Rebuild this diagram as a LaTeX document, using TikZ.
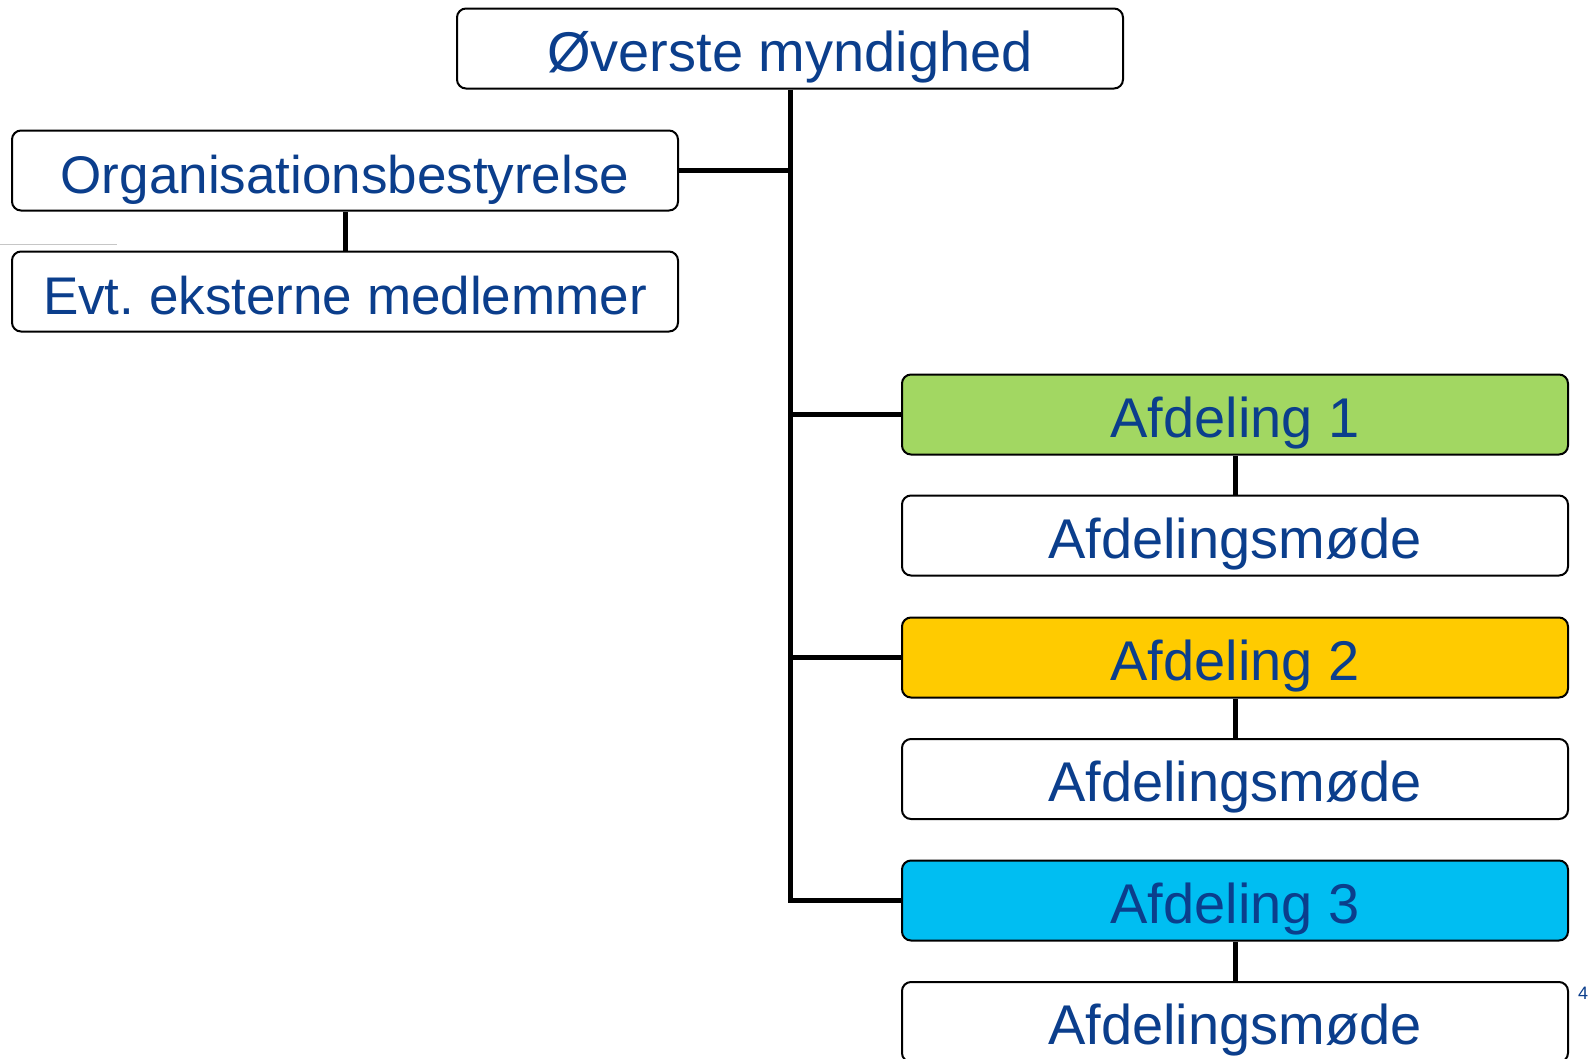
\documentclass[tikz,border=0pt]{standalone}
\usepackage{fontspec}
\setmainfont{Liberation Sans}
\frenchspacing
\definecolor{txtblue}{HTML}{0B3E8C}
\definecolor{afdgreen}{HTML}{A2D762}
\definecolor{afdyellow}{HTML}{FFCB00}
\definecolor{afdcyan}{HTML}{00BEF2}
\begin{document}
\begin{tikzpicture}[x=1pt,y=-1pt,
  box/.style={draw=black, line width=2pt, rounded corners=9pt, fill=white,
    minimum width=666pt, minimum height=80pt, inner sep=0pt, text=txtblue,
    text height=48pt, text depth=3pt,
    font=\fontsize{56}{60}\selectfont},
  smalltxt/.style={font=\fontsize{53}{60}\selectfont},
  conn/.style={draw=black, line width=5pt}]
\useasboundingbox (0,0) rectangle (1588,1058);
\node[box] (top) at (790,48.5) {Øverste myndighed};
\node[box, smalltxt] (org) at (345,170.5) {Organisationsbestyrelse};
\node[box, smalltxt] (evt) at (345,291.5) {Evt. eksterne medlemmer};
\node[box, fill=afdgreen] (a1) at (1235,414.5) {Afdeling 1};
\node[box] (m1) at (1235,535.5) {Afdelingsmøde};
\node[box, fill=afdyellow] (a2) at (1235,657.5) {Afdeling 2};
\node[box] (m2) at (1235,779) {Afdelingsmøde};
\node[box, fill=afdcyan] (a3) at (1235,900.5) {Afdeling 3};
\node[box] (m3) at (1235,1022) {Afdelingsmøde};
\node[anchor=base west, inner sep=0pt, text=txtblue, font=\fontsize{18}{20}\selectfont] (pg) at (1578,999) {4};
\draw[gray!45, line width=1pt] (0,244) -- (117,244);
\draw[conn] (top.south) |- (a3.west);
\draw[conn] (org.east) -- (org.east -| top.south);
\draw[conn] (a1.west) -- (a1.west -| top.south);
\draw[conn] (a2.west) -- (a2.west -| top.south);
\draw[conn] (org.south) -- (evt.north);
\draw[conn] (a1.south) -- (m1.north);
\draw[conn] (a2.south) -- (m2.north);
\draw[conn] (a3.south) -- (m3.north);
\end{tikzpicture}
\end{document}
